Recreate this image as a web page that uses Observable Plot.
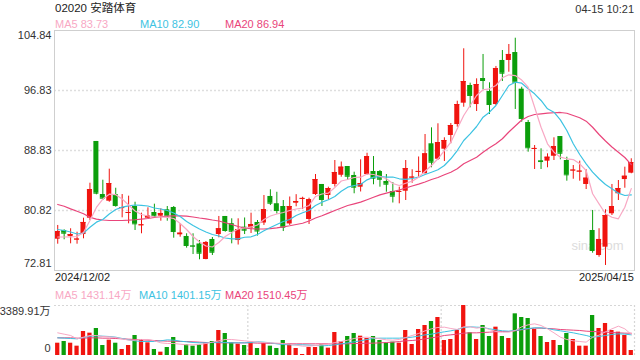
<!DOCTYPE html>
<html><head><meta charset="utf-8">
<script src="https://cdn.jsdelivr.net/npm/d3@7"></script>
<script src="https://cdn.jsdelivr.net/npm/@observablehq/plot@0.6"></script>
<style>
body{margin:0;background:#fff;}
#wrap{position:relative;width:640px;height:360px;overflow:hidden;background:#fff;font-family:"Liberation Sans",Arial,"Noto Sans CJK SC",sans-serif;color:#333;}
.t{position:absolute;white-space:nowrap;font-size:11px;line-height:11px;}
</style></head><body>
<div id="wrap"></div>
<script>
// ---- data ----
const stockCode = "02020";
const stockName = "安踏体育";
const stamp = "04-15 10:21";
const dateLabels = ["2024/12/02", "2025/04/15"];
const yTicks = [104.84, 96.83, 88.83, 80.82, 72.81];
const volTicks = [3389.91, 0];

const opens = [76.99,78.15,77.35,76.9,77.61,79.79,90.03,82.95,82.06,82.95, 81.1,80.45,81.35,78.8,79.79,80.55,80.06,80.91,81.22,77.57, 77.35,76.12,76.35,74.28,76.95,77.61,80.02,79.06,76.81,78.59, 78.48,79.22,79.15,82.69,81.72,81.35,79.02,81.79,82.33,79.62, 82.95,84.29,82.82,84.29,85.52,86.69,85.49,83.93,85.62,86.02, 86.02,84.69,83.35,83.26,83.39,85.17,85.93,85.72,89.72,87.66, 89.0,90.83,92.29,95.14,97.5,94.96,98.43,96.7,94.96,100.84, 100.84,101.9,97.01,92.56,89.0,87.45,87.4,88.06,90.69,87.49, 86.11,85.97,84.29,78.15,74.81,75.92,80.38,83.05,84.95,85.8];
const closes = [78.01,77.79,77.61,77.0,79.22,83.62,83.13,82.46,84.42,81.48, 81.2,80.55,79.04,78.9,80.06,80.06,80.42,80.11,78.01,77.79, 76.15,76.05,75.12,76.55,75.25,78.38,78.15,78.05,78.28,78.19, 78.95,78.08,80.95,81.79,80.82,78.59,81.35,82.02,82.43,82.26, 84.95,82.29,83.75,85.89,86.6,85.39,83.93,84.42,88.02,85.13, 84.99,84.33,82.73,83.36,86.42,85.27,86.03,88.38,87.26,89.89, 90.16,92.16,94.96,98.03,96.17,97.63,98.17,94.96,99.77,99.14, 101.64,97.94,93.1,89.19,89.1,87.35,87.93,89.36,88.46,85.58, 86.21,86.07,85.13,75.48,76.95,80.15,81.35,83.75,85.39,87.22];
const highs = [78.82,78.24,78.38,77.92,79.79,84.46,90.03,84.86,86.33,83.79, 82.95,82.73,81.92,80.46,81.18,81.66,81.04,81.35,81.35,79.04, 77.71,77.71,76.81,76.68,77.21,80.02,80.02,79.71,79.71,79.82, 80.46,79.48,82.82,83.58,83.25,82.15,82.62,82.93,82.59,82.46, 85.62,84.29,83.93,87.49,87.29,86.69,85.93,87.58,88.46,88.02, 86.16,85.62,84.55,83.93,87.49,86.25,87.96,90.96,91.85,92.39, 90.52,92.43,95.4,102.4,97.81,98.39,101.64,97.86,100.04,102.17, 102.97,103.81,97.27,92.83,89.49,89.05,88.38,90.52,90.69,87.93, 86.82,87.4,86.25,80.82,78.38,80.91,84.29,84.82,86.6,87.72];
const lows = [76.32,76.91,76.37,76.32,77.04,79.48,82.91,82.15,81.92,81.26, 79.84,79.04,78.15,77.71,79.71,79.92,79.39,79.39,77.12,77.25, 75.79,74.94,74.24,74.24,74.81,77.17,77.92,76.37,76.21,77.61, 77.75,77.41,78.82,81.48,80.35,78.01,78.82,81.31,80.95,78.95, 82.82,81.35,82.22,83.95,85.26,84.82,83.05,83.29,85.49,84.25, 83.93,83.26,81.82,81.71,82.15,84.46,85.26,85.72,86.52,87.49, 87.36,89.72,91.93,94.6,94.52,94.03,96.93,93.63,94.83,98.03, 99.27,94.3,92.6,88.6,86.29,86.29,86.52,87.49,87.58,84.73, 84.99,84.73,83.62,75.12,74.58,73.48,80.15,82.15,83.79,85.72];
const ma5 = [77.28,77.28,77.31,77.35,77.88,79.48,81.22,82.35,82.99,82.93, 82.35,81.55,80.75,80.28,80.08,79.98,79.95,79.91,79.75,79.08, 78.28,77.35,76.61,76.08,75.95,76.55,77.35,77.88,78.35,78.48, 78.62,78.88,79.62,80.08,80.35,80.55,80.82,81.02,81.15,81.48, 82.69,83.02,83.13,83.89,84.75,84.95,85.22,85.26,85.69,85.62, 85.39,85.05,84.42,84.15,84.46,84.73,85.26,86.06,86.82,87.72, 88.82,89.93,91.72,93.5,94.83,96.17,96.93,97.06,97.5,98.53, 98.93,98.83,98.23,97.27,94.6,91.93,89.72,88.6,87.93,87.72, 87.62,87.05,86.16,83.05,81.71,80.38,79.92,79.71,81.26,83.73];
const ma10 = [78.28,78.15,77.95,77.68,77.79,78.59,79.26,79.62,80.35,80.95, 81.26,81.44,81.55,81.51,81.42,81.15,81.02,80.82,80.48,80.02, 79.35,78.82,78.35,77.95,77.61,77.41,77.15,77.04,77.04,77.25, 77.31,77.61,78.11,78.55,78.95,79.35,79.62,80.15,80.51,80.82, 81.48,81.93,82.25,82.69,83.39,83.93,84.15,84.29,84.91,85.26, 85.35,85.26,85.29,85.05,84.98,85.09,85.26,85.62,85.93,86.25, 86.82,87.72,88.82,90.16,91.05,92.03,93.27,93.94,94.83,96.17, 97.5,97.94,97.81,97.06,96.39,95.5,94.39,93.94,92.92,91.49, 89.72,88.29,87.05,85.93,85.05,84.29,83.71,83.13,82.82,82.90];
const ma20 = [81.62,81.39,81.04,80.72,80.38,79.92,79.66,79.55,79.48,79.48, 79.48,79.52,79.58,79.66,79.75,79.88,79.98,80.06,80.11,80.11, 80.06,79.95,79.82,79.71,79.55,79.42,79.18,78.95,78.68,78.48, 78.38,78.35,78.35,78.41,78.51,78.64,78.78,78.95,79.12,79.42, 79.82,80.11,80.46,80.82,81.15,81.48,81.71,81.93,82.25,82.59, 82.91,83.13,83.35,83.55,83.82,84.09,84.33,84.62,84.95,85.22, 85.58,85.93,86.38,87.05,87.49,87.93,88.6,89.19,89.72,90.39, 91.29,92.09,92.9,93.36,93.63,93.72,93.8,93.86,93.9,93.8, 93.5,93.19,92.74,91.93,90.96,90.09,89.29,88.6,87.89,86.94];
const volumes = [834,949,834,633,1627,1514,1830,678,1040,834, 407,678,1356,1085,860,407,226,542,1220,339, 723,633,723,860,949,1695,1491,860,768,678, 904,475,860,633,475,1017,768,475,68,542, 542,723,497,1559,949,1288,1491,1310,1153,1288, 1017,836,904,836,1695,746,1763,2034,2305,2576, 1017,1085,1695,3389.91,1537,1085,2034,1288,1921,1288, 1153,2825,2576,2508,1763,1288,881,1017,678,1491, 1085,633,633,2712,1830,2170,1695,1582,1356,339];
const volMa5 = [1537,1446,1356,1130,1243,1356,1356,1288,1266,1220, 1130,1040,1040,1085,1085,994,859,814,814,768, 723,723,746,814,904,994,1085,1085,1040,994, 949,904,882,859,836,814,768,701,633,633, 678,723,768,882,949,1040,1153,1220,1243,1198, 1130,1062,1040,1085,1220,1356,1492,1673,1808,1899, 1921,1831,1763,1944,1944,1853,1921,1763,1627,1582, 1582,1695,1944,2079,2147,2034,1808,1537,1243,1085, 994,949,904,1243,1379,1605,1808,1989,1808,1431.14];
const volMa10 = [1198,1175,1153,1130,1220,1311,1334,1311,1288,1243, 1153,1062,994,949,949,949,994,1062,1040,972, 927,882,859,859,882,904,882,859,859,859, 882,927,904,859,791,746,723,723,723,701, 678,656,678,723,791,859,927,994,1085,1153, 1175,1175,1175,1175,1198,1243,1311,1401,1446,1537, 1605,1673,1763,1899,1944,1921,1899,1808,1740,1673, 1650,1695,1763,1831,1876,1876,1831,1740,1673,1605, 1537,1446,1356,1243,1288,1356,1424,1469,1446,1401.15];
const volMa20 = [1198,1198,1198,1175,1175,1198,1198,1175,1175,1153, 1130,1107,1085,1062,1040,1017,994,972,972,949, 949,927,904,882,882,859,859,859,859,859, 859,836,836,814,814,791,791,791,791,791, 791,791,791,791,791,791,814,814,836,836, 859,882,904,949,994,1017,1062,1130,1198,1266, 1356,1401,1446,1514,1537,1537,1559,1582,1605,1627, 1627,1673,1740,1808,1853,1853,1831,1808,1763,1740, 1718,1695,1650,1627,1605,1582,1559,1537,1514,1510.45];

// ---- styling ----
const RED = "#f0140f", GREEN = "#0b9e0b";
const C5 = "#f8a8c4", C10 = "#3dc3e2", C20 = "#e9457b";
const FONT = "'Liberation Sans', Arial, 'Noto Sans CJK SC', sans-serif";
const n = opens.length;
const rows = d3.range(n).map(i => ({i, open: opens[i], close: closes[i], high: highs[i], low: lows[i],
  vol: volumes[i], ma5: ma5[i], ma10: ma10[i], ma20: ma20[i], v5: volMa5[i], v10: volMa10[i], v20: volMa20[i]}));
const up = rows.filter(d => d.close >= d.open);
const down = rows.filter(d => d.close < d.open);
const half = 0.39, vhalf = 0.33;

function candles(data, color) {
  return [
    Plot.ruleX(data, {x: "i", y1: "low", y2: "high", stroke: color, strokeWidth: 1}),
    Plot.rect(data, {x1: d => d.i - half, x2: d => d.i + half, y1: "open", y2: "close", fill: color}),
    Plot.ruleY(data, {y: "close", x1: d => d.i - half, x2: d => d.i + half, stroke: color, strokeWidth: 1})
  ];
}
const labelOpts = {frameAnchor: "left", textAnchor: "end", dx: -3, fill: "#333", fontSize: 11};

const main = Plot.plot({
  width: 640, height: 240, marginLeft: 54, marginRight: 6, marginTop: 0, marginBottom: 0,
  style: `font-family:${FONT};font-size:11px;overflow:visible;background:transparent;`,
  x: {domain: [-0.5, n - 0.5], axis: null},
  y: {domain: [yTicks[yTicks.length - 1], yTicks[0]], axis: null},
  marks: [
    Plot.ruleY(yTicks.slice(1, -1), {stroke: "#dedede", strokeWidth: 1.5, strokeDasharray: "2,2"}),
    Plot.text(["sina.com"], {text: d => d, frameAnchor: "bottom-right", textAnchor: "end", dx: -11, dy: -21, fill: "#dcdcdc", fontSize: 13}),
    ...candles(up, RED),
    ...candles(down, GREEN),
    Plot.line(rows, {x: "i", y: "ma20", stroke: C20, strokeWidth: 1.2}),
    Plot.line(rows, {x: "i", y: "ma10", stroke: C10, strokeWidth: 1.2}),
    Plot.line(rows, {x: "i", y: "ma5", stroke: C5, strokeWidth: 1.2}),
    Plot.frame({stroke: "#cfcfcf"}),
    Plot.text(yTicks.slice(1, -1), {y: d => d, text: d => d.toFixed(2), ...labelOpts}),
    Plot.text([yTicks[0]], {y: d => d, text: d => d.toFixed(2), ...labelOpts, dy: 4.5}),
    Plot.text([yTicks[yTicks.length - 1]], {y: d => d, text: d => d.toFixed(2), ...labelOpts, dy: -7})
  ]
});

const thirds = [1, 2, 3].map(k => k * n / 3 - 0.5);
const vol = Plot.plot({
  width: 640, height: 50, marginLeft: 54, marginRight: 6, marginTop: 0, marginBottom: 0,
  style: `font-family:${FONT};font-size:11px;overflow:visible;background:transparent;`,
  x: {domain: [-0.5, n - 0.5], axis: null},
  y: {domain: [0, volTicks[0]], axis: null},
  marks: [
    Plot.ruleY([volTicks[0]], {stroke: "#d6d6d6", strokeWidth: 1.2, strokeDasharray: "2,2"}),
    Plot.ruleX(thirds, {stroke: "#d6d6d6", strokeWidth: 1.2, strokeDasharray: "2,2"}),
    Plot.rect(up, {x1: d => d.i - vhalf, x2: d => d.i + vhalf, y1: d => 0, y2: "vol", fill: RED}),
    Plot.rect(down, {x1: d => d.i - vhalf, x2: d => d.i + vhalf, y1: d => 0, y2: "vol", fill: GREEN}),
    Plot.line(rows, {x: "i", y: "v20", stroke: C20, strokeWidth: 1}),
    Plot.line(rows, {x: "i", y: "v10", stroke: C10, strokeWidth: 1}),
    Plot.line(rows, {x: "i", y: "v5", stroke: C5, strokeWidth: 1}),
    Plot.text([volTicks[0]], {y: d => d, text: d => d.toFixed(2) + "万", ...labelOpts, dx: -4, dy: 6}),
    Plot.text([volTicks[1]], {y: d => d, text: d => String(d), ...labelOpts, dx: -4, dy: -7})
  ]
});

const wrap = document.getElementById("wrap");
function place(el, top) {
  el.style.position = "absolute"; el.style.left = "0px"; el.style.top = top + "px";
  wrap.appendChild(el);
}
place(main, 30);
place(vol, 305);

function label(text, x, baseline, color, anchor = "start", size = 11) {
  const s = document.createElement("div");
  s.className = "t";
  s.textContent = text;
  s.style.color = color;
  s.style.fontSize = size + "px";
  s.style.lineHeight = size + "px";
  s.style.top = (baseline - size * 0.845) + "px";
  if (anchor === "end") s.style.right = (640 - x) + "px"; else s.style.left = x + "px";
  wrap.appendChild(s);
}
const last = a => a[a.length - 1];
label(`${stockCode} ${stockName}`, 55, 12.5, "#222", "start", 11.5);
label(stamp, 634, 13, "#333", "end");
label(`MA5 ${last(ma5).toFixed(2)}`, 55, 28, C5);
label(`MA10 ${last(ma10).toFixed(2)}`, 140, 28, C10);
label(`MA20 ${last(ma20).toFixed(2)}`, 225, 28, C20);
label(dateLabels[0], 55, 281.5, "#222");
label(dateLabels[1], 634, 281.5, "#222", "end");
label(`MA5 ${last(volMa5).toFixed(2)}万`, 55, 299.5, C5);
label(`MA10 ${last(volMa10).toFixed(2)}万`, 139, 299.5, C10);
label(`MA20 ${last(volMa20).toFixed(2)}万`, 225, 299.5, C20);
</script>
</body></html>
